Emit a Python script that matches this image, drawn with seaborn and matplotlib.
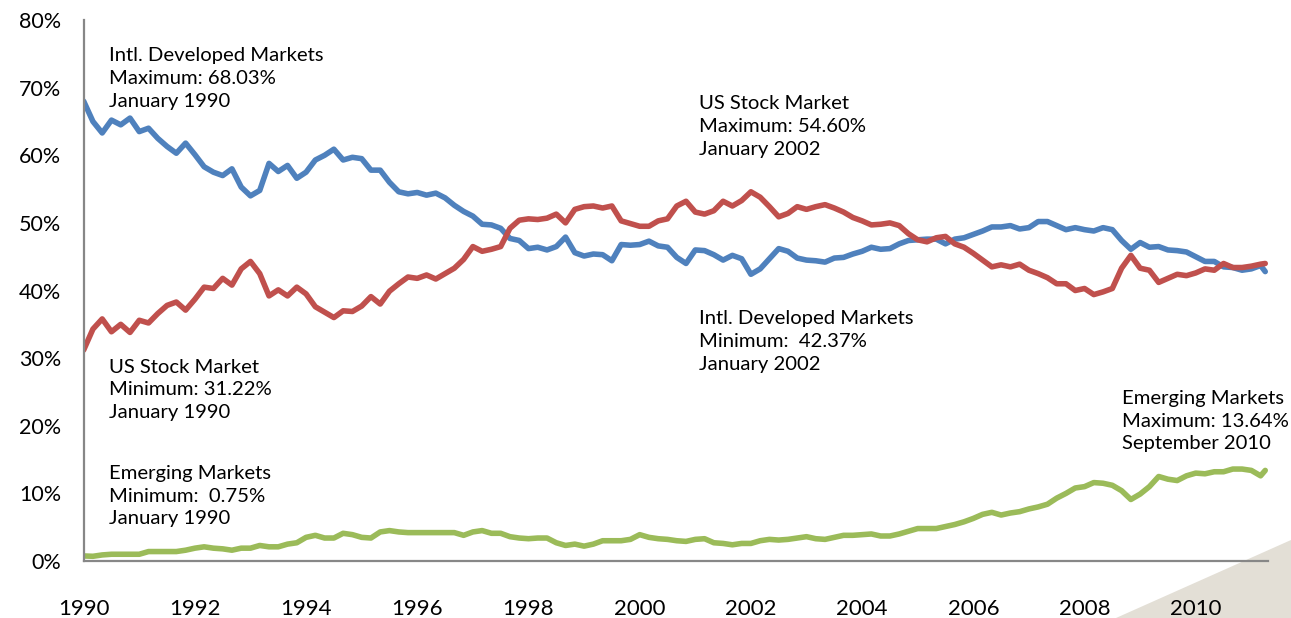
import matplotlib.pyplot as plt
import matplotlib.patches as mpatches
import pandas as pd
import seaborn as sns

# Bi-monthly observations Jan 1990 .. Mar 2011, plus the last one in Apr 2011
dates = list(pd.date_range("1990-01-01", "2011-03-01", freq="2MS")) + [pd.Timestamp("2011-04-01")]

intl_developed = [
    68.0, 65.0, 63.3, 65.2, 64.5, 65.5,   # 1990
    63.5, 64.0, 62.5, 61.3, 60.3, 61.8,   # 1991
    60.1, 58.3, 57.5, 57.0, 58.0, 55.3,   # 1992
    54.0, 54.8, 58.8, 57.6, 58.5, 56.6,   # 1993
    57.5, 59.3, 60.0, 60.9, 59.3, 59.7,   # 1994
    59.5, 57.8, 57.8, 56.0, 54.6, 54.3,   # 1995
    54.5, 54.1, 54.4, 53.7, 52.6, 51.7,   # 1996
    51.0, 49.8, 49.7, 49.2, 47.7, 47.4,   # 1997
    46.2, 46.4, 46.0, 46.5, 47.9, 45.6,   # 1998
    45.1, 45.4, 45.3, 44.4, 46.8, 46.7,   # 1999
    46.8, 47.3, 46.6, 46.4, 44.9, 44.0,   # 2000
    46.0, 45.9, 45.3, 44.5, 45.2, 44.7,   # 2001
    42.4, 43.2, 44.7, 46.2, 45.8, 44.8,   # 2002
    44.5, 44.4, 44.2, 44.8, 44.9, 45.4,   # 2003
    45.8, 46.4, 46.1, 46.2, 46.9, 47.4,   # 2004
    47.5, 47.6, 47.6, 46.9, 47.6, 47.8,   # 2005
    48.3, 48.8, 49.4, 49.4, 49.6, 49.1,   # 2006
    49.3, 50.2, 50.2, 49.6, 49.0, 49.3,   # 2007
    49.0, 48.8, 49.3, 49.0, 47.4, 46.1,   # 2008
    47.1, 46.4, 46.5, 46.0, 45.9, 45.7,   # 2009
    45.0, 44.3, 44.3, 43.5, 43.4, 43.0,   # 2010
    43.2, 43.7, 42.8,                     # 2011
]

us_stock = [
    31.2, 34.3, 35.8, 33.9, 35.0, 33.8,
    35.6, 35.2, 36.6, 37.8, 38.3, 37.1,
    38.7, 40.5, 40.3, 41.8, 40.8, 43.2,
    44.3, 42.5, 39.2, 40.1, 39.2, 40.5,
    39.5, 37.6, 36.8, 36.0, 37.0, 36.9,
    37.7, 39.1, 38.0, 39.9, 41.0, 42.0,
    41.8, 42.3, 41.7, 42.5, 43.3, 44.6,
    46.5, 45.8, 46.1, 46.5, 49.2, 50.4,
    50.6, 50.5, 50.7, 51.3, 50.0, 52.0,
    52.4, 52.5, 52.2, 52.5, 50.3, 49.9,
    49.5, 49.5, 50.3, 50.6, 52.5, 53.2,
    51.6, 51.3, 51.8, 53.2, 52.5, 53.3,
    54.6, 53.8, 52.4, 50.9, 51.4, 52.4,
    52.0, 52.4, 52.7, 52.2, 51.6, 50.8,
    50.3, 49.7, 49.8, 50.0, 49.6, 48.4,
    47.5, 47.2, 47.8, 48.0, 46.9, 46.4,
    45.5, 44.5, 43.5, 43.8, 43.5, 43.9,
    43.0, 42.5, 41.9, 41.0, 41.0, 40.0,
    40.3, 39.4, 39.8, 40.3, 43.3, 45.2,
    43.3, 43.0, 41.2, 41.8, 42.4, 42.2,
    42.6, 43.2, 43.0, 44.0, 43.4, 43.4,
    43.6, 43.9, 44.0,
]

emerging = [
    0.75, 0.7, 0.9, 1.0, 1.0, 1.0,
    1.0, 1.4, 1.4, 1.4, 1.4, 1.6,
    1.9, 2.1, 1.9, 1.8, 1.6, 1.9,
    1.9, 2.3, 2.1, 2.1, 2.5, 2.7,
    3.5, 3.8, 3.4, 3.4, 4.1, 3.9,
    3.5, 3.4, 4.3, 4.5, 4.3, 4.2,
    4.2, 4.2, 4.2, 4.2, 4.2, 3.8,
    4.3, 4.5, 4.1, 4.1, 3.6, 3.4,
    3.3, 3.4, 3.4, 2.7, 2.3, 2.5,
    2.2, 2.5, 3.0, 3.0, 3.0, 3.2,
    3.9, 3.5, 3.3, 3.2, 3.0, 2.9,
    3.2, 3.3, 2.7, 2.6, 2.4, 2.6,
    2.6, 3.0, 3.2, 3.1, 3.2, 3.4,
    3.6, 3.3, 3.2, 3.5, 3.8, 3.8,
    3.9, 4.0, 3.7, 3.7, 4.0, 4.4,
    4.8, 4.8, 4.8, 5.1, 5.4, 5.8,
    6.3, 6.9, 7.2, 6.8, 7.1, 7.3,
    7.7, 8.0, 8.4, 9.3, 10.0, 10.8,
    11.0, 11.6, 11.5, 11.2, 10.4, 9.1,
    9.9, 11.0, 12.5, 12.1, 11.9, 12.6,
    13.0, 12.9, 13.2, 13.2, 13.6, 13.6,
    13.4, 12.6, 13.4,
]

series_names = ["Intl. Developed Markets", "US Stock Market", "Emerging Markets"]
series_colors = ["#4F81BD", "#C0504D", "#9BBB59"]

notes = [
    ("Intl. Developed Markets\nMaximum: 68.03%\nJanuary 1990", 1990.455, 71.4),
    ("US Stock Market\nMaximum: 54.60%\nJanuary 2002", 2001.07, 64.2),
    ("Intl. Developed Markets\nMinimum:  42.37%\nJanuary 2002", 2001.07, 32.5),
    ("US Stock Market\nMinimum: 31.22%\nJanuary 1990", 1990.455, 25.3),
    ("Emerging Markets\nMinimum:  0.75%\nJanuary 1990", 1990.455, 9.6),
    ("Emerging Markets\nMaximum: 13.64%\nSeptember 2010", 2008.68, 20.7),
]

# long-form frame for seaborn
year = [d.year + (d.month - 1) / 12 for d in dates]
df = pd.DataFrame({"year": year,
                   series_names[0]: intl_developed,
                   series_names[1]: us_stock,
                   series_names[2]: emerging})
df_long = df.melt(id_vars="year", var_name="market", value_name="share")

sns.set_style("white")
plt.rcParams["font.family"] = ["Lato", "DejaVu Sans"]
plt.rcParams["lines.solid_joinstyle"] = "round"
plt.rcParams["lines.solid_capstyle"] = "round"

fig = plt.figure(figsize=(12.91, 6.18), dpi=100)
ax = fig.add_axes([0.0648, 0.0922, 0.9174, 0.8754])
ax.patch.set_visible(False)

# beige corner triangle behind everything
fig.patches.append(mpatches.Polygon([(1116 / 1291, 0), (1, 0), (1, 0.126)], closed=True,
                                    transform=fig.transFigure, facecolor="#E3DFD6",
                                    edgecolor="none", zorder=-10))

sns.lineplot(data=df_long, x="year", y="share", hue="market", hue_order=series_names,
             palette=series_colors, linewidth=4.0, legend=False, ax=ax)

for text, x, y in notes:
    ax.text(x, y, text, fontsize=14.6, va="center", ha="left", linespacing=1.42, color="#000000")

ax.set_xlim(1990, 2011.3)
ax.set_ylim(0, 80)
ax.set_xticks(range(1990, 2011, 2))
ax.set_xticklabels([str(y) for y in range(1990, 2011, 2)])
ax.set_yticks(range(0, 81, 10))
ax.set_yticklabels([f"{v}%" for v in range(0, 81, 10)])
ax.set_xlabel("")
ax.set_ylabel("")

sns.despine(ax=ax, top=True, right=True)
for side in ["left", "bottom"]:
    ax.spines[side].set_color("#878787")
    ax.spines[side].set_linewidth(1.6)
ax.tick_params(axis="both", which="major", direction="out", color="#878787", width=1.3,
               length=6, labelcolor="#000000")
ax.tick_params(axis="x", pad=21, labelsize=16)
ax.tick_params(axis="y", pad=10, labelsize=15.5)

fig.savefig("out.png", dpi=100)
